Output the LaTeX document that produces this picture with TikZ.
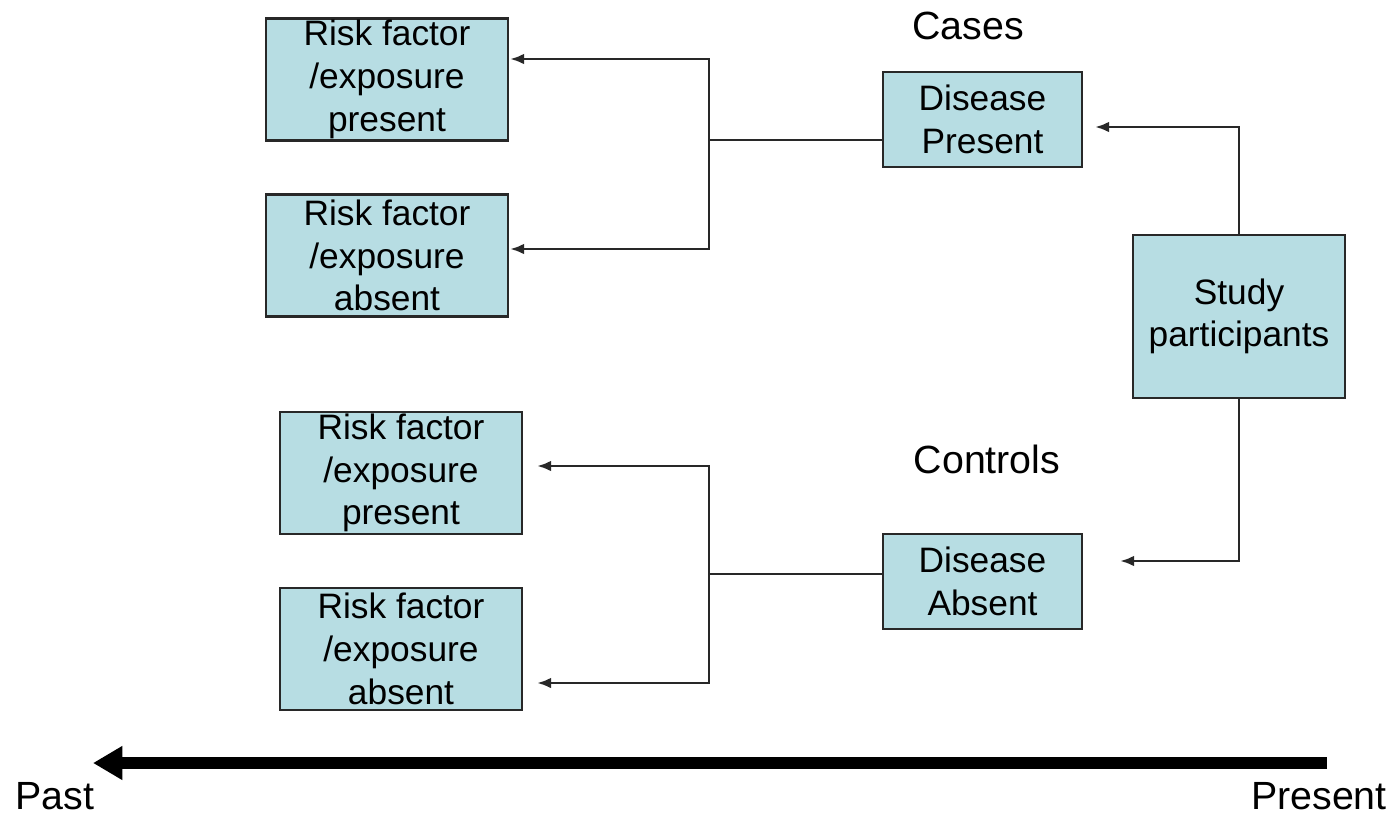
\documentclass[tikz,border=0pt]{standalone}
\usepackage{fontspec}
\setmainfont{Liberation Sans}
\usepackage{tikz}
\usetikzlibrary{arrows.meta, positioning, calc}
\definecolor{boxfill}{RGB}{183,221,227}
\definecolor{boxline}{RGB}{40,40,40}

\begin{document}
\begin{tikzpicture}[x=0.75pt, y=-0.75pt,
  riskbox/.style={draw=boxline, line width=1.8pt, fill=boxfill, minimum width=181.5pt,
                  minimum height=91.5pt, align=center, inner sep=0pt,
                  font=\fontsize{26.5}{32}\selectfont},
  dbox/.style={riskbox, minimum width=149.5pt, minimum height=71pt},
  tag/.style={inner sep=0pt, font=\fontsize{29.5}{34}\selectfont},
  conn/.style={-{Latex[length=10.5pt, width=8pt]}, line width=2.1pt, draw=boxline},
  link/.style={line width=1.6pt, draw=boxline},
  timeline/.style={-{Triangle[length=22pt, width=24pt]}, line width=9pt}]

  \useasboundingbox (0,0) rectangle (1393,815);

  % exposure boxes (past)
  \node[riskbox] (rfa) at (387,79.5)  {Risk factor\\/exposure\\present};
  \node[riskbox] (rfb) at (387,255.5) {Risk factor\\/exposure\\absent};
  \node[riskbox] (rfc) at (401,473)   {Risk factor\\/exposure\\present};
  \node[riskbox] (rfd) at (401,649)   {Risk factor\\/exposure\\absent};

  % disease status and participants (present)
  \node[dbox] (dp) at (982.5,119.5) {Disease\\Present};
  \node[dbox] (da) at (982.5,581.5) {Disease\\Absent};
  \node[riskbox, minimum width=159pt, minimum height=122pt] (sp) at (1239,316.5)
       {Study\\participants};

  \node[tag] (cases)    at (968,26)  {Cases};
  \node[tag] (controls) at (987,459) {Controls};

  % arrow ends and junctions
  \coordinate (dpin) at (1095,127);
  \coordinate (dain) at (1120,561);
  \coordinate (jtop) at (709,140);
  \coordinate (jbot) at (709,574);
  \coordinate (rfain) at (510,59);
  \coordinate (rfbin) at (510,249);
  \coordinate (rfcin) at (537,466);
  \coordinate (rfdin) at (537,683);

  \draw[conn] (sp.north) |- (dpin);
  \draw[conn] (sp.south) |- (dain);

  \draw[link] (jtop) -- (jtop -| dp.west);
  \draw[conn] (jtop) |- (rfain);
  \draw[conn] (jtop) |- (rfbin);

  \draw[link] (jbot) -- (jbot -| da.west);
  \draw[conn] (jbot) |- (rfcin);
  \draw[conn] (jbot) |- (rfdin);

  % time axis
  \coordinate (now)  at (1327,763);
  \coordinate (then) at (93,763);
  \draw[timeline] (now) -- (then);
  \node[tag] (past)    at (55,796)   {Past};
  \node[tag] (present) at (1319,796) {Present};
\end{tikzpicture}
\end{document}
